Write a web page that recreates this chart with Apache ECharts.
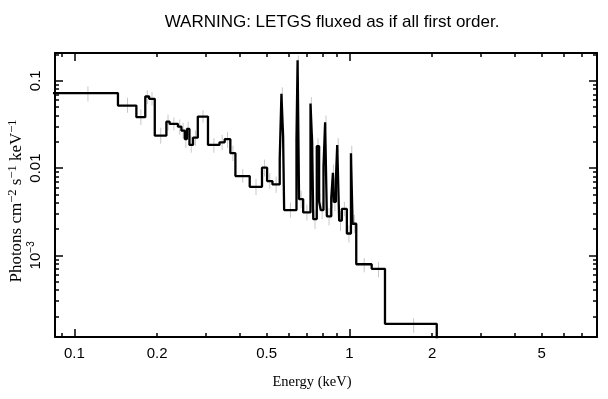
<!DOCTYPE html>
<html>
<head>
<meta charset="utf-8">
<script src="https://cdn.jsdelivr.net/npm/echarts@6/dist/echarts.min.js"></script>
<style>
  html, body { margin: 0; padding: 0; background: #fff; }
  #main { width: 608px; height: 399px; }
</style>
</head>
<body>
<div id="main"></div>
<script>
// bin edges (keV), one more than the values
var binEdges = [0.08, 0.144, 0.168, 0.181, 0.187, 0.196, 0.216, 0.222, 0.238, 0.245, 0.252,
  0.2565, 0.262, 0.270, 0.281, 0.306, 0.337, 0.352, 0.369, 0.385, 0.434, 0.481, 0.502,
  0.525, 0.558, 0.566, 0.574, 0.579, 0.642, 0.648, 0.656, 0.679, 0.722, 0.732, 0.739,
  0.761, 0.776, 0.787, 0.805, 0.816, 0.828, 0.859, 0.871, 0.878, 0.893, 0.903, 0.918,
  0.939, 0.979, 1.013, 1.027, 1.059, 1.205, 1.347, 2.078];
// flux per bin (photons cm^-2 s^-1 keV^-1)
var flux = [0.0722, 0.052, 0.0383, 0.066, 0.0621, 0.0235, 0.034, 0.032, 0.0298, 0.0268,
  0.0215, 0.0281, 0.0184, 0.0223, 0.0389, 0.0184, 0.0197, 0.0214, 0.0148, 0.0081, 0.0061,
  0.0101, 0.0071, 0.0065, 0.0129, 0.071, 0.0229, 0.0033, 0.021, 0.172, 0.0044, 0.0031,
  0.055, 0.0193, 0.0026, 0.0178, 0.0041, 0.0033, 0.0104, 0.0335, 0.0028, 0.0045, 0.0088,
  0.0041, 0.0074, 0.0183, 0.0025, 0.0034, 0.00178, 0.0148, 0.0023, 0.00079, 0.00070, 0.000164];
// error bar ends
var errLo = [0.058, 0.043, 0.031, 0.054, 0.052, 0.019, 0.027, 0.027, 0.024, 0.022,
  0.017, 0.023, 0.015, 0.018, 0.033, 0.015, 0.016, 0.017, 0.012, 0.0068, 0.0049,
  0.008, 0.0058, 0.0052, 0.010, 0.060, 0.018, 0.0027, 0.016, 0.150, 0.0035, 0.0025,
  0.046, 0.015, 0.002, 0.014, 0.0032, 0.0026, 0.0082, 0.028, 0.0022, 0.0035, 0.0068,
  0.0032, 0.0058, 0.015, 0.0019, 0.0028, 0.0014, 0.012, 0.0018, 0.00064, 0.00056, 0.00013];
var errHi = [0.086, 0.064, 0.047, 0.078, 0.074, 0.029, 0.041, 0.038, 0.036, 0.033,
  0.026, 0.034, 0.023, 0.027, 0.046, 0.022, 0.024, 0.026, 0.018, 0.0097, 0.0075,
  0.0125, 0.0087, 0.008, 0.016, 0.084, 0.028, 0.004, 0.026, 0.195, 0.0055, 0.0038,
  0.065, 0.024, 0.0033, 0.022, 0.0051, 0.0041, 0.013, 0.040, 0.0035, 0.0057, 0.011,
  0.0052, 0.0093, 0.022, 0.0032, 0.0041, 0.0022, 0.018, 0.0029, 0.00093, 0.00084, 0.00019];

var xMin = 0.085, xMax = 7.95;
var yMin = 1.16e-4, yMax = 0.208;
var xLabelVals = [0.1, 0.2, 0.5, 1, 2, 5];
var xMajor = [0.1, 1];
var xMinor = [0.09, 0.2, 0.3, 0.4, 0.5, 0.6, 0.7, 0.8, 0.9, 2, 3, 4, 5, 6, 7];
var yMajor = [0.001, 0.01, 0.1];
var yMinor = [2e-4, 3e-4, 4e-4, 5e-4, 6e-4, 7e-4, 8e-4, 9e-4,
  0.002, 0.003, 0.004, 0.005, 0.006, 0.007, 0.008, 0.009,
  0.02, 0.03, 0.04, 0.05, 0.06, 0.07, 0.08, 0.09, 0.2];

// step line points: each value held from its left edge to the next edge
var stepData = [];
for (var i = 0; i < flux.length; i++) stepData.push([binEdges[i], flux[i]]);
stepData.push([binEdges[flux.length], flux[flux.length - 1]]);
stepData.push([binEdges[flux.length], 1e-6]); // drop off the bottom

var errData = flux.map(function (v, i) {
  return [(binEdges[i] + binEdges[i + 1]) / 2, errLo[i], errHi[i]];
});

var supRich = {
  n: { fontFamily: 'Liberation Serif', fontSize: 17, color: '#000', lineHeight: 22 },
  s: { fontFamily: 'Liberation Serif', fontSize: 12.5, color: '#000', lineHeight: 13, verticalAlign: 'top' }
};
var supRichSans = {
  n: { fontFamily: 'Liberation Sans', fontSize: 15, color: '#000', lineHeight: 20 },
  s: { fontFamily: 'Liberation Sans', fontSize: 10, color: '#000', lineHeight: 11, verticalAlign: 'top' }
};

// one axis per side for major ticks, one more for minor ticks
function makeAxis(kind, pos, ticks, len, withLine, extra) {
  var ax = {
    type: 'log',
    position: pos,
    min: kind === 'x' ? xMin : yMin,
    max: kind === 'x' ? xMax : yMax,
    axisLine: { show: withLine, lineStyle: { color: '#000', width: 2 } },
    axisTick: { show: true, inside: true, length: len, customValues: ticks,
      lineStyle: { color: '#000', width: 1.5 } },
    axisLabel: { show: false },
    splitLine: { show: false },
    minorTick: { show: false },
    minorSplitLine: { show: false }
  };
  return Object.assign(ax, extra || {});
}

var chart = echarts.init(document.getElementById('main'), null, { renderer: 'canvas' });

var option = {
  animation: false,
  backgroundColor: '#fff',
  title: {
    text: 'WARNING: LETGS fluxed as if all first order.',
    left: 327,
    top: 9,
    textAlign: 'center',
    textStyle: { fontFamily: 'Liberation Sans', fontSize: 17, fontWeight: 'normal', color: '#000' }
  },
  grid: { left: 55, right: 11, top: 53, bottom: 62, containLabel: false, outerBoundsMode: 'none' },
  xAxis: [
    makeAxis('x', 'bottom', xMajor, 8, true, {
      name: 'Energy (keV)',
      nameLocation: 'middle',
      nameGap: 38,
      nameMoveOverlap: false,
      nameTextStyle: { fontFamily: 'Liberation Serif', fontSize: 14.5, color: '#000', padding: [0, 28, 0, 0] },
      axisLabel: {
        show: true,
        customValues: xLabelVals,
        margin: 9,
        fontFamily: 'Liberation Sans',
        fontSize: 15,
        color: '#000',
        formatter: function (v) { return String(v); }
      }
    }),
    makeAxis('x', 'bottom', xMinor, 4, false),
    makeAxis('x', 'top', xMajor, 8, true),
    makeAxis('x', 'top', xMinor, 4, false)
  ],
  yAxis: [
    makeAxis('y', 'left', yMajor, 8, true, {
      name: '{n|Photons cm}{s|−2}{n| s}{s|−1}{n| keV}{s|−1}',
      nameLocation: 'middle',
      nameRotate: 90,
      nameGap: 27,
      nameMoveOverlap: false,
      nameTextStyle: { rich: supRich, padding: [0, 12, 0, 0] },
      axisLabel: {
        show: true,
        customValues: yMajor,
        rotate: 90,
        margin: 9,
        fontFamily: 'Liberation Sans',
        fontSize: 15,
        color: '#000',
        rich: supRichSans,
        formatter: function (v) {
          if (v < 0.005) return '{n|10}{s|−3}';
          return '{n|' + (v < 0.05 ? '0.01' : '0.1') + '}';
        }
      }
    }),
    makeAxis('y', 'left', yMinor, 4, false),
    makeAxis('y', 'right', yMajor, 8, true),
    makeAxis('y', 'right', yMinor, 4, false)
  ],
  series: [
    {
      type: 'custom',
      xAxisIndex: 0,
      yAxisIndex: 0,
      clip: true,
      z: 1,
      silent: true,
      data: errData,
      encode: { x: 0, y: [1, 2] },
      renderItem: function (params, api) {
        var p1 = api.coord([api.value(0), api.value(1)]);
        var p2 = api.coord([api.value(0), api.value(2)]);
        return {
          type: 'line',
          shape: { x1: p1[0], y1: p1[1], x2: p2[0], y2: p2[1] },
          style: { stroke: '#c8c8c8', lineWidth: 1 }
        };
      }
    },
    {
      type: 'line',
      xAxisIndex: 0,
      yAxisIndex: 0,
      step: 'end',
      symbol: 'none',
      clip: true,
      z: 3,
      data: stepData,
      lineStyle: { color: '#000', width: 2.3 }
    }
  ]
};

chart.setOption(option);
</script>
</body>
</html>
